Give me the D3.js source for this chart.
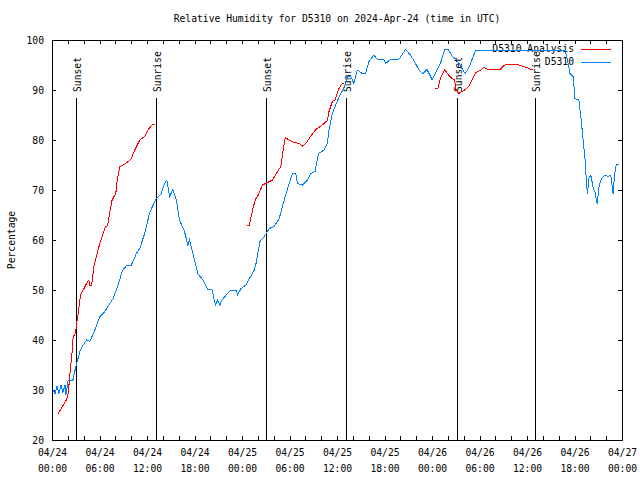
<!DOCTYPE html>
<html><head><meta charset="utf-8">
<script src="https://cdn.jsdelivr.net/npm/d3@7"></script>
<style>
html,body{margin:0;padding:0;background:#fff;}
svg{display:block;}
text{font-family:"DejaVu Sans Mono","Liberation Mono",monospace;font-size:9.7px;fill:#000;}
</style></head><body>
<svg id="chart" width="640" height="480"></svg>
<script>
// ---- data (hours since 2024-04-24 00:00 UTC) ----
const titleText = "Relative Humidity for D5310 on 2024-Apr-24 (time in UTC)";
const yLabel = "Percentage";
const seriesNames = ["D5310 Analysis", "D5310"];
const seriesColors = ["#ff0000", "#0080ff"];

const xTickDates = ["04/24","04/24","04/24","04/24","04/25","04/25","04/25","04/25","04/26","04/26","04/26","04/26","04/27"];
const xTickTimes = ["00:00","06:00","12:00","18:00","00:00","06:00","12:00","18:00","00:00","06:00","12:00","18:00","00:00"];
const xTickHours = [0,6,12,18,24,30,36,42,48,54,60,66,72];
const yTicks = [20,30,40,50,60,70,80,90,100];

const eventNames = ["Sunset","Sunrise","Sunset","Sunrise","Sunset","Sunrise"];
const eventHours = [3.07,13.17,27.03,37.17,51.12,61.05];

// D5310 observations
const obsHours = [0.16,0.38,0.63,0.88,1.13,1.38,1.64,1.76,2.05,2.64,3.02,3.52,3.94,4.37,4.78,5.41,6.04,6.67,7.30,7.72,
  8.35,8.90,9.48,10.03,10.66,11.08,11.71,12.34,13.18,13.81,14.22,14.51,14.85,15.27,15.70,16.11,16.74,17.16,17.37,17.79,
  18.42,19.05,19.68,20.23,20.64,20.93,21.19,21.49,21.99,22.62,23.25,23.45,23.88,24.51,24.84,25.55,25.77,26.27,26.81,27.44,
  28.07,28.70,29.33,29.96,30.37,30.80,31.00,31.63,32.26,32.69,33.23,33.65,34.37,34.78,34.99,35.41,35.91,36.47,36.88,37.30,
  37.73,38.14,38.56,39.19,39.61,40.03,40.66,41.08,41.92,42.13,42.76,43.81,44.65,45.28,45.91,46.32,46.83,47.37,48.00,48.43,
  49.06,49.60,50.10,50.52,51.15,51.78,52.20,52.62,53.03,53.54,64.79,65.12,65.42,65.84,66.05,66.55,66.80,67.09,67.38,67.51,
  67.64,67.81,68.06,68.35,68.57,68.86,69.11,69.40,69.90,70.24,70.58,70.87,71.08,71.29,71.59];
const obsValues = [30,29.3,30.7,29.3,31,29.5,31,29,32,32,34.7,37.7,39,40,39.7,42,44.7,45.7,47.3,48.3,
  51,53.9,55,55,57.3,58.3,61.3,65.5,68.3,69.3,71.3,72,68.7,70.1,68,64,61.7,59,60,57.3,
  53.3,52,50.1,50,47,48,47,48,49,50,50,49,50.3,51,52,54,55.3,59.7,60.7,62.3,
  62.7,64.3,68,71.3,73.3,73.3,71.3,71,72,73.3,73.7,77.3,78,79.3,82,85.3,87.3,89.3,90.3,92.7,
  92.7,91.3,94,93.3,93.3,95.7,97,96.1,96.1,95.3,96.1,96.1,98.1,97,95.3,94.1,93.2,94.1,92.1,93.3,
  95.3,98.1,98,96.8,96,94.3,93.3,94.3,96,98,98,96,93.3,92.7,88.3,88,84.7,80,75.3,71.3,
  69.3,72.3,73,70.5,69.7,67.3,70.7,72.3,73,72.7,73,69.3,73.3,75.2,75.2];

// D5310 Analysis (null = gap)
const anaHours = [0.79,1.85,2.05,2.27,2.56,2.68,2.98,3.11,3.31,3.61,3.94,4.37,4.66,4.78,5.00,5.32,5.70,6.04,6.46,6.76,
  7.01,7.30,7.59,8.06,8.22,8.56,9.19,9.73,10.03,10.45,11.08,11.71,12.12,12.68,12.97,
  18.0,
  24.58,24.92,25.34,25.68,25.97,26.60,27.23,27.86,28.49,28.91,29.12,29.46,29.96,30.59,31.22,31.63,32.06,32.48,33.32,34.15,
  34.78,34.99,35.41,35.75,36.25,36.59,36.88,
  42.0,
  48.43,48.75,49.06,49.60,50.10,50.52,50.86,51.02,51.36,51.78,52.20,52.71,53.03,53.54,54.09,54.51,55.14,55.77,56.61,57.02,
  57.44,58.70,59.33,59.96,60.51,60.80];
const anaValues = [25.3,28.1,29.3,33.3,38,40.7,41.3,43.3,45.3,49,50,51.3,52,51,51,55,57.3,59.3,61.3,62.7,
  62.8,65.5,68,69.3,71.7,74.7,75.2,75.8,76.3,78,80,80.7,82,83.1,83.1,
  null,
  63,63,66,68.1,68.7,71,71.5,72,73.7,74.7,77.3,80.5,80,79.5,79.3,78.8,79.3,80.3,82.1,83,
  83.9,85.7,87.7,88,90.3,91.2,91.3,
  null,
  90.3,90.3,92.3,94.1,93,92.3,92,90.1,89.3,89.7,90.1,90.8,92,93.5,93.9,94.5,94.1,94.1,94.1,94.8,
  95.2,95.2,94.8,94.5,94.1,94.1];

// ---- drawing ----
const svg = d3.select("#chart");
const L = 52, R = 622, T = 40, B = 440;
const x = d3.scaleLinear().domain([0,72]).range([L,R]);
const y = d3.scaleLinear().domain([20,100]).range([B,T]);
const minorTicks = d3.range(0,73,2);

svg.append("rect").attr("width",640).attr("height",480).attr("fill","#fff");

// axes ticks (inward, mirrored)
const axG = svg.append("g").attr("shape-rendering","crispEdges");
axG.append("g").attr("transform",`translate(0,${B})`)
  .call(d3.axisBottom(x).tickValues(minorTicks).tickSize(-4).tickFormat(""));
axG.append("g").attr("transform",`translate(0,${T})`)
  .call(d3.axisTop(x).tickValues(minorTicks).tickSize(-4).tickFormat(""));
axG.append("g").attr("transform",`translate(${L},0)`)
  .call(d3.axisLeft(y).tickValues(yTicks).tickSize(-4).tickFormat(""));
axG.append("g").attr("transform",`translate(${R},0)`)
  .call(d3.axisRight(y).tickValues(yTicks).tickSize(-4).tickFormat(""));
axG.selectAll(".domain").remove();
axG.selectAll(".tick line").attr("stroke","#000");

// x tick labels (two lines)
const xl = svg.append("g").attr("transform",`translate(0,${B})`)
  .call(d3.axisBottom(x).tickValues(xTickHours).tickSize(0).tickPadding(0).tickFormat((d,i)=>xTickDates[i]));
xl.select(".domain").remove();
xl.selectAll(".tick text").each(function(d,i){
  const t = d3.select(this);
  t.text(null).attr("y",0).attr("dy",null)
   .attr("font-family",null).attr("font-size",null);
  t.append("tspan").attr("x",0).attr("y",15.5).text(xTickDates[i]);
  t.append("tspan").attr("x",0).attr("y",31.5).text(xTickTimes[i]);
});

// y tick labels
const yl = svg.append("g").attr("transform",`translate(${L},0)`)
  .call(d3.axisLeft(y).tickValues(yTicks).tickSize(0).tickPadding(8).tickFormat(d=>String(d)));
yl.select(".domain").remove();
yl.selectAll(".tick text").attr("font-family",null).attr("font-size",null).attr("dy","0.35em");

// event lines
const ev = svg.append("g");
eventHours.forEach((h,i)=>{
  const xp = Math.round(x(h)) + 0.5;
  ev.append("line").attr("x1",xp).attr("x2",xp).attr("y1",98).attr("y2",B)
    .attr("stroke","#000").attr("stroke-width",1).attr("shape-rendering","crispEdges");
  ev.append("text").attr("transform",`translate(${xp+1.5},92) rotate(-90)`)
    .attr("text-anchor","start").attr("dy","0.35em").text(eventNames[i]);
});

// series lines
const obsData = obsHours.map((h,i)=>[h,obsValues[i]]);
const anaData = anaHours.map((h,i)=>[h,anaValues[i]]);
const line = d3.line().defined(d=>d[1]!==null).x(d=>x(d[0])).y(d=>y(d[1]));

// legend
const legendY = [49, 62];
seriesNames.forEach((n,i)=>{
  svg.append("text").attr("x",574).attr("y",legendY[i]).attr("dy","0.35em")
     .attr("text-anchor","end").text(n);
  svg.append("line").attr("x1",581).attr("x2",611).attr("y1",legendY[i]+0.5).attr("y2",legendY[i]+0.5)
     .attr("stroke",seriesColors[i]).attr("stroke-width",1).attr("shape-rendering","crispEdges");
});

svg.append("path").datum(anaData).attr("d",line).attr("fill","none")
  .attr("stroke",seriesColors[0]).attr("stroke-width",1).attr("shape-rendering","crispEdges");
svg.append("path").datum(obsData).attr("d",line).attr("fill","none")
  .attr("stroke",seriesColors[1]).attr("stroke-width",1).attr("shape-rendering","crispEdges");

// border
svg.append("rect").attr("x",L+0.5).attr("y",T+0.5).attr("width",R-L).attr("height",B-T)
  .attr("fill","none").attr("stroke","#000").attr("stroke-width",1).attr("shape-rendering","crispEdges");

// title & y label
svg.append("text").attr("x",(L+R)/2).attr("y",19).attr("dy","0.35em").attr("text-anchor","middle").text(titleText);
svg.append("text").attr("transform","translate(12,240) rotate(-90)").attr("text-anchor","middle")
  .attr("dy","0.35em").text(yLabel);
</script>
</body></html>
